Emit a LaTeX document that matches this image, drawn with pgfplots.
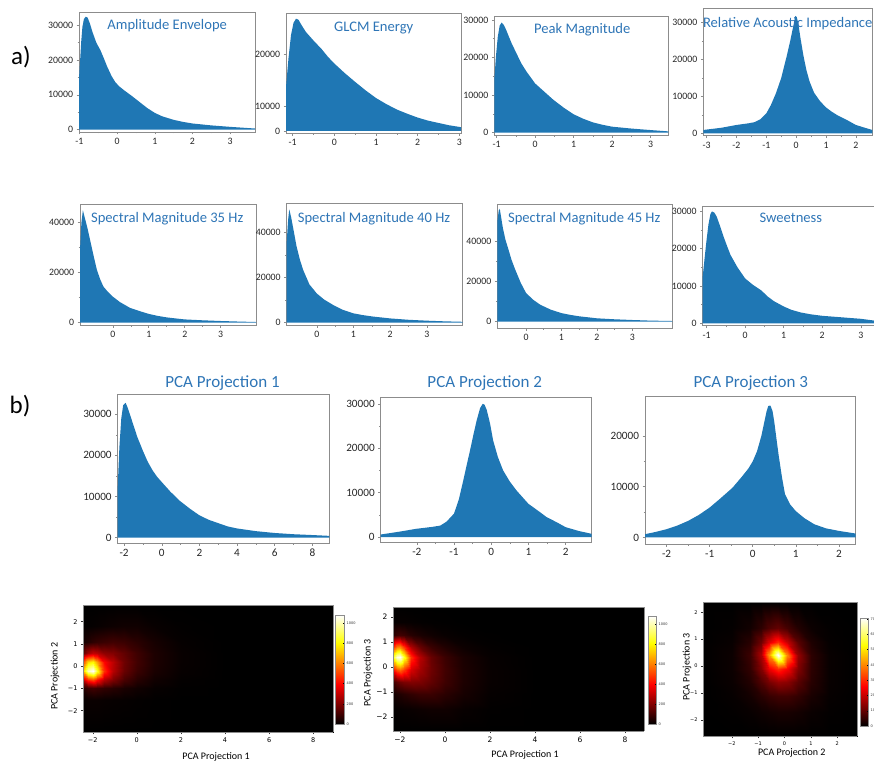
\documentclass[border=0pt]{standalone}
\usepackage{pgfplots}
\pgfplotsset{compat=1.18}
\usepackage{fontspec}
\setmainfont{Carlito}
\newfontfamily\dejavu{DejaVu Sans}
\definecolor{c0}{RGB}{31,119,180}
\definecolor{tblue}{RGB}{46,117,182}
\definecolor{fr}{RGB}{140,140,140}
\pgfplotsset{
  colormap={mhot}{rgb(0cm)=(0,0,0) rgb(3.65cm)=(1,0,0) rgb(7.46cm)=(1,1,0) rgb(10cm)=(1,1,1)},
  hist/.style={scale only axis, anchor=south west,
    axis line style={fr, line width=0.6pt},
    tick style={fr, line width=0.5pt}, tick align=outside, tick pos=left,
    major tick length=2.5pt, minor tick length=1.5pt, minor tick num=1,
    /pgf/number format/assume math mode=true, /pgf/number format/1000 sep={},
    scaled ticks=false,
    ticklabel style={font=\fontsize{9.8}{9.8}\selectfont, text=black!85}},
  histb/.style={hist, ticklabel style={font=\fontsize{11.2}{11.2}\selectfont}},
  hm/.style={scale only axis, anchor=south west, view={0}{90},
    colormap name=mhot, point meta min=0, axis on top,
    tick align=outside, major tick length=2pt,
    tick style={black!80, line width=0.4pt},
    axis line style={fr, line width=0.5pt},
    ztick=\empty, xtick pos=left, ytick pos=left,
    /pgf/number format/assume math mode=true,
    label style={text=black!85}},
  cbar/.style={colorbar style={at={(parent axis.north east)}, anchor=north west,
    scale only axis, tick style={black, line width=0.3pt}, major tick length=1.2pt,
    axis line style={fr, line width=0.4pt},
    /pgf/number format/assume math mode=true, /pgf/number format/1000 sep={},
    yticklabel style={font=\dejavu\fontsize{3.5}{3.5}\selectfont, text=black!80, xshift=-1pt}}}
}
\begin{document}
\begin{tikzpicture}
\useasboundingbox (0,0) rectangle (874pt,765pt);
\clip (0,0) rectangle (874pt,765pt);

% ---------- row a1 ----------
\begin{axis}[hist, at={(79pt,633pt)}, width=176pt, height=120pt,
  xmin=-1.01, xmax=3.66, ymin=-700, ymax=33840,
  xtick={-1,0,1,2,3}, ytick={0,10000,20000,30000}]
\addplot[fill=c0, draw=none] coordinates {(-1.01,14800) (-0.98,20000) (-0.95,25500) (-0.92,29500) (-0.88,31800) (-0.83,32500) (-0.78,32200) (-0.72,30500) (-0.65,28000) (-0.55,25000) (-0.44,22800) (-0.35,20500) (-0.27,18300) (-0.15,15500) (-0.05,13700) (0.05,12500) (0.2,11200) (0.4,9600) (0.6,7900) (0.8,6200) (1,4800) (1.2,3800) (1.5,2800) (1.75,2200) (2,1750) (2.5,1200) (3,780) (3.66,300)} \closedcycle;
\end{axis}

\begin{axis}[hist, at={(286pt,631.5pt)}, width=175pt, height=120.2pt,
  xmin=-1.16, xmax=3.04, ymin=-650, ymax=30700,
  xtick={-1,0,1,2,3}, ytick={0,6500,20000}, yticklabels={0,10000,20000}, minor ytick={}]
\addplot[fill=c0, draw=none] coordinates {(-1.16,11500) (-1.10,19000) (-1.04,25000) (-0.98,28200) (-0.92,29300) (-0.86,29000) (-0.78,27500) (-0.68,25800) (-0.5,23600) (-0.3,21300) (-0.15,19300) (0,17600) (0.25,15100) (0.5,12800) (0.75,10600) (1,8600) (1.25,7000) (1.5,5600) (1.75,4500) (2,3500) (2.25,2700) (2.5,2100) (2.75,1500) (3.04,1000)} \closedcycle;
\end{axis}

\begin{axis}[hist, at={(494.3pt,629.8pt)}, width=174pt, height=119.2pt,
  xmin=-1.06, xmax=3.46, ymin=-665, ymax=31040,
  xtick={-1,0,1,2,3}, ytick={0,10000,20000,30000}]
\addplot[fill=c0, draw=none] coordinates {(-1.06,14000) (-1.02,20000) (-0.97,25500) (-0.92,28500) (-0.87,29300) (-0.81,28600) (-0.75,27300) (-0.62,24000) (-0.48,21000) (-0.35,18300) (-0.22,16200) (0,13100) (0.25,10800) (0.48,8700) (0.75,6600) (1,4900) (1.25,3700) (1.5,2750) (1.75,2100) (2,1600) (2.5,1100) (3,700) (3.46,350)} \closedcycle;
\end{axis}

\begin{axis}[hist, at={(703.3pt,629.2pt)}, width=169pt, height=127.5pt,
  xmin=-3.11, xmax=2.55, ymin=-680, ymax=33875,
  xtick={-3,-2,-1,0,1,2}, ytick={0,10000,20000,30000}]
\addplot[fill=c0, draw=none] coordinates {(-3.11,900) (-2.5,1500) (-2,2250) (-1.6,2700) (-1.4,3000) (-1.2,3800) (-1,5400) (-0.85,7600) (-0.68,10800) (-0.5,15000) (-0.32,20800) (-0.2,25000) (-0.1,28900) (-0.03,31800) (0.02,31500) (0.07,29800) (0.15,25500) (0.24,21200) (0.34,17200) (0.45,14000) (0.6,11000) (0.8,8700) (1,7000) (1.2,5800) (1.4,4800) (1.7,3600) (2,2250) (2.3,1500) (2.55,900)} \closedcycle;
\end{axis}

% ---------- row a2 ----------
\begin{axis}[hist, at={(80pt,439.8pt)}, width=176pt, height=121.2pt,
  xmin=-0.91, xmax=3.98, ymin=-1000, ymax=47290,
  xtick={0,1,2,3}, ytick={0,20000,40000}]
\addplot[fill=c0, draw=none] coordinates {(-0.91,29000) (-0.87,40000) (-0.83,44800) (-0.78,42000) (-0.7,37500) (-0.63,33000) (-0.53,26500) (-0.44,21000) (-0.35,17300) (-0.26,14400) (-0.13,12200) (0,10400) (0.2,8200) (0.48,5900) (0.75,4600) (1,3500) (1.25,2700) (1.5,2100) (2,1300) (2.5,950) (3,670) (3.5,450) (3.98,270)} \closedcycle;
\end{axis}

\begin{axis}[hist, at={(286.7pt,439.8pt)}, width=176pt, height=121.9pt,
  xmin=-0.82, xmax=3.98, ymin=-1110, ymax=53070,
  xtick={0,1,2,3}, ytick={0,20000,40000}]
\addplot[fill=c0, draw=none] coordinates {(-0.82,36000) (-0.78,46000) (-0.75,50300) (-0.7,47000) (-0.62,40000) (-0.55,33800) (-0.46,28000) (-0.37,23400) (-0.2,17000) (0,13000) (0.2,10300) (0.45,7850) (0.7,5800) (1,4150) (1.25,3400) (1.5,2800) (2,1900) (2.5,1300) (3,900) (3.5,600) (3.98,400)} \closedcycle;
\end{axis}

\begin{axis}[hist, at={(497.3pt,436.7pt)}, width=175pt, height=124.3pt,
  xmin=-0.81, xmax=4.13, ymin=-3300, ymax=58850,
  xtick={0,1,2,3}, ytick={0,20000,40000}]
\addplot[fill=c0, draw=none] coordinates {(-0.81,50000) (-0.77,55500) (-0.74,56400) (-0.7,52000) (-0.65,46600) (-0.58,41000) (-0.5,36400) (-0.41,31000) (-0.31,26300) (-0.15,19500) (0,14400) (0.2,11000) (0.4,8500) (0.7,6000) (1,4300) (1.25,3400) (1.5,2700) (2,1700) (2.5,1200) (3,850) (3.5,550) (4.13,340)} \closedcycle;
\end{axis}

\begin{axis}[hist, at={(702.7pt,439.2pt)}, width=172.3pt, height=119.8pt,
  xmin=-1.1, xmax=3.37, ymin=-670, ymax=31360,
  xtick={-1,0,1,2,3}, ytick={0,10000,20000,30000}]
\addplot[fill=c0, draw=none] coordinates {(-1.1,12500) (-1.05,17500) (-1,22300) (-0.95,26500) (-0.9,29200) (-0.86,29900) (-0.8,29600) (-0.74,28600) (-0.65,26000) (-0.56,23200) (-0.47,20700) (-0.38,18300) (-0.2,15000) (0,12000) (0.2,10300) (0.42,8800) (0.5,8000) (0.58,7200) (0.75,5900) (1,4500) (1.2,3600) (1.44,2900) (1.7,2400) (2,2000) (2.5,1600) (3,1200) (3.37,700)} \closedcycle;
\end{axis}

% ---------- row b histograms ----------
\begin{axis}[histb, at={(117.7pt,221.7pt)}, width=211.6pt, height=149pt,
  xmin=-2.34, xmax=8.9, ymin=-1410, ymax=34870,
  xtick={-2,0,2,4,6,8}, ytick={0,10000,20000,30000}]
\addplot[fill=c0, draw=none] coordinates {(-2.34,12300) (-2.25,22000) (-2.15,29000) (-2.05,32200) (-1.92,32800) (-1.8,31500) (-1.55,28000) (-1.3,24500) (-1.0,21100) (-0.75,18500) (-0.48,16300) (-0.25,14800) (0,13500) (0.45,11200) (0.94,9000) (1.5,7000) (2,5400) (2.5,4300) (3.06,3400) (3.5,2700) (4,2200) (5,1550) (6,1100) (7,800) (8,600) (8.9,400)} \closedcycle;
\end{axis}

\begin{axis}[histb, at={(380.7pt,222.3pt)}, width=211pt, height=145pt,
  xmin=-2.97, xmax=2.7, ymin=-1240, ymax=31370,
  xtick={-2,-1,0,1,2}, ytick={0,10000,20000,30000}]
\addplot[fill=c0, draw=none] coordinates {(-2.97,600) (-2.5,1200) (-2,1900) (-1.6,2300) (-1.37,2600) (-1.2,3500) (-1,5300) (-0.87,8500) (-0.75,12800) (-0.66,16200) (-0.57,19500) (-0.48,23000) (-0.39,26300) (-0.3,29000) (-0.23,30000) (-0.18,29800) (-0.12,28600) (-0.03,25500) (0.05,21800) (0.18,18000) (0.32,15000) (0.5,12500) (0.68,10500) (1,7500) (1.25,6000) (1.49,4500) (1.75,3400) (2,2250) (2.35,1400) (2.7,750)} \closedcycle;
\end{axis}

\begin{axis}[histb, at={(645pt,220.7pt)}, width=210.7pt, height=147.6pt,
  xmin=-2.5, xmax=2.39, ymin=-1340, ymax=27740,
  xtick={-2,-1,0,1,2}, ytick={0,10000,20000}]
\addplot[fill=c0, draw=none] coordinates {(-2.5,650) (-2.25,1100) (-2,1630) (-1.75,2350) (-1.5,3270) (-1.25,4450) (-1,5900) (-0.75,7700) (-0.47,9800) (-0.25,12000) (-0.1,13600) (0,15000) (0.1,17000) (0.2,20000) (0.27,22800) (0.32,24800) (0.36,25900) (0.41,26000) (0.46,24900) (0.5,22800) (0.55,19500) (0.6,16300) (0.68,11800) (0.75,8500) (0.87,6500) (1,5200) (1.2,3800) (1.43,2600) (1.7,1800) (2,1300) (2.39,780)} \closedcycle;
\end{axis}

% ---------- heatmaps ----------
\begin{axis}[hm, at={(83pt,33pt)}, width=250pt, height=127pt,
  xmin=-2.44, xmax=8.9, ymin=-2.96, ymax=2.75, point meta max=1080,
  xtick={-2,0,2,4,6,8}, xticklabels={−2,0,2,4,6,8},
  ytick={-2,-1,0,1,2}, yticklabels={−2,−1,0,1,2},
  ticklabel style={font=\dejavu\fontsize{6.5}{6.5}\selectfont},
  xlabel={PCA Projection 1}, ylabel={PCA Projection 2},
  label style={font=\fontsize{11}{11}\selectfont},
  every axis x label/.style={at={(axis description cs:0.532,-0.197)}, anchor=center},
  every axis y label/.style={at={(axis description cs:-0.112,0.44)}, rotate=90, anchor=center},
  colorbar, cbar, colorbar style={xshift=-6.5pt, yshift=-10pt, width=9pt, height=109pt, ytick={0,200,...,1000}}]
\addplot3[surf, shader=interp, mesh/cols=12] table[row sep=\\] {
x y z\\
-2.44 -2.96 0\\ -2.2 -2.96 0\\ -2.0 -2.96 0\\ -1.8 -2.96 0\\ -1.5 -2.96 0\\ -1.1 -2.96 0\\ -0.6 -2.96 0\\ 0 -2.96 0\\ 0.8 -2.96 0\\ 2 -2.96 0\\ 4 -2.96 0\\ 8.9 -2.96 0\\
-2.44 -1.5 10\\ -2.2 -1.5 15\\ -2.0 -1.5 15\\ -1.8 -1.5 15\\ -1.5 -1.5 12\\ -1.1 -1.5 10\\ -0.6 -1.5 8\\ 0 -1.5 5\\ 0.8 -1.5 2\\ 2 -1.5 0\\ 4 -1.5 0\\ 8.9 -1.5 0\\
-2.44 -1.0 60\\ -2.2 -1.0 90\\ -2.0 -1.0 100\\ -1.8 -1.0 90\\ -1.5 -1.0 75\\ -1.1 -1.0 60\\ -0.6 -1.0 40\\ 0 -1.0 25\\ 0.8 -1.0 10\\ 2 -1.0 2\\ 4 -1.0 0\\ 8.9 -1.0 0\\
-2.44 -0.6 300\\ -2.2 -0.6 450\\ -2.0 -0.6 500\\ -1.8 -0.6 400\\ -1.5 -0.6 270\\ -1.1 -0.6 190\\ -0.6 -0.6 110\\ 0 -0.6 60\\ 0.8 -0.6 25\\ 2 -0.6 5\\ 4 -0.6 0\\ 8.9 -0.6 0\\
-2.44 -0.2 700\\ -2.2 -0.2 1000\\ -2.0 -0.2 1080\\ -1.8 -0.2 850\\ -1.5 -0.2 470\\ -1.1 -0.2 280\\ -0.6 -0.2 160\\ 0 -0.2 90\\ 0.8 -0.2 40\\ 2 -0.2 10\\ 4 -0.2 0\\ 8.9 -0.2 0\\
-2.44 0.2 500\\ -2.2 0.2 750\\ -2.0 0.2 800\\ -1.8 0.2 650\\ -1.5 0.2 400\\ -1.1 0.2 290\\ -0.6 0.2 170\\ 0 0.2 100\\ 0.8 0.2 45\\ 2 0.2 12\\ 4 0.2 0\\ 8.9 0.2 0\\
-2.44 0.6 150\\ -2.2 0.6 250\\ -2.0 0.6 300\\ -1.8 0.6 280\\ -1.5 0.6 220\\ -1.1 0.6 200\\ -0.6 0.6 150\\ 0 0.6 95\\ 0.8 0.6 45\\ 2 0.6 12\\ 4 0.6 0\\ 8.9 0.6 0\\
-2.44 1.1 30\\ -2.2 1.1 50\\ -2.0 1.1 70\\ -1.8 1.1 80\\ -1.5 1.1 90\\ -1.1 1.1 100\\ -0.6 1.1 90\\ 0 1.1 65\\ 0.8 1.1 35\\ 2 1.1 8\\ 4 1.1 0\\ 8.9 1.1 0\\
-2.44 1.8 3\\ -2.2 1.8 5\\ -2.0 1.8 8\\ -1.8 1.8 10\\ -1.5 1.8 15\\ -1.1 1.8 20\\ -0.6 1.8 25\\ 0 1.8 25\\ 0.8 1.8 12\\ 2 1.8 3\\ 4 1.8 0\\ 8.9 1.8 0\\
-2.44 2.75 0\\ -2.2 2.75 0\\ -2.0 2.75 0\\ -1.8 2.75 0\\ -1.5 2.75 0\\ -1.1 2.75 0\\ -0.6 2.75 0\\ 0 2.75 0\\ 0.8 2.75 0\\ 2 2.75 0\\ 4 2.75 0\\ 8.9 2.75 0\\
};
\end{axis}

\begin{axis}[hm, at={(393pt,34pt)}, width=251pt, height=124pt,
  xmin=-2.31, xmax=8.84, ymin=-2.57, ymax=2.41, point meta max=1080,
  xtick={-2,0,2,4,6,8}, xticklabels={−2,0,2,4,6,8},
  ytick={-2,-1,0,1,2}, yticklabels={−2,−1,0,1,2},
  ticklabel style={font=\dejavu\fontsize{7.5}{7.5}\selectfont},
  xlabel={PCA Projection 1}, ylabel={PCA Projection 3},
  label style={font=\fontsize{11}{11}\selectfont},
  every axis x label/.style={at={(axis description cs:0.526,-0.19)}, anchor=center},
  every axis y label/.style={at={(axis description cs:-0.1,0.47)}, rotate=90, anchor=center},
  colorbar, cbar, colorbar style={xshift=-4.5pt, yshift=-9pt, width=8pt, height=108pt, ytick={0,200,...,1000}}]
\addplot3[surf, shader=interp, mesh/cols=12] table[row sep=\\] {
x y z\\
-2.31 -2.57 0\\ -2.15 -2.57 0\\ -2.0 -2.57 0\\ -1.8 -2.57 0\\ -1.5 -2.57 0\\ -1.1 -2.57 0\\ -0.6 -2.57 0\\ 0 -2.57 0\\ 0.8 -2.57 0\\ 2 -2.57 0\\ 4 -2.57 0\\ 8.84 -2.57 0\\
-2.31 -1.7 5\\ -2.15 -1.7 8\\ -2.0 -1.7 10\\ -1.8 -1.7 12\\ -1.5 -1.7 15\\ -1.1 -1.7 20\\ -0.6 -1.7 25\\ 0 -1.7 25\\ 0.8 -1.7 12\\ 2 -1.7 3\\ 4 -1.7 0\\ 8.84 -1.7 0\\
-2.31 -1.1 30\\ -2.15 -1.1 40\\ -2.0 -1.1 50\\ -1.8 -1.1 60\\ -1.5 -1.1 75\\ -1.1 -1.1 90\\ -0.6 -1.1 90\\ 0 -1.1 65\\ 0.8 -1.1 35\\ 2 -1.1 8\\ 4 -1.1 0\\ 8.84 -1.1 0\\
-2.31 -0.6 100\\ -2.15 -0.6 140\\ -2.0 -0.6 170\\ -1.8 -0.6 190\\ -1.5 -0.6 200\\ -1.1 -0.6 190\\ -0.6 -0.6 150\\ 0 -0.6 95\\ 0.8 -0.6 45\\ 2 -0.6 12\\ 4 -0.6 0\\ 8.84 -0.6 0\\
-2.31 -0.1 400\\ -2.15 -0.1 520\\ -2.0 -0.1 560\\ -1.8 -0.1 480\\ -1.5 -0.1 330\\ -1.1 -0.1 250\\ -0.6 -0.1 170\\ 0 -0.1 100\\ 0.8 -0.1 45\\ 2 -0.1 12\\ 4 -0.1 0\\ 8.84 -0.1 0\\
-2.31 0.4 850\\ -2.15 0.4 1040\\ -2.0 0.4 1080\\ -1.8 0.4 850\\ -1.5 0.4 470\\ -1.1 0.4 280\\ -0.6 0.4 160\\ 0 0.4 90\\ 0.8 0.4 40\\ 2 0.4 10\\ 4 0.4 0\\ 8.84 0.4 0\\
-2.31 0.8 450\\ -2.15 0.8 600\\ -2.0 0.8 620\\ -1.8 0.8 480\\ -1.5 0.8 270\\ -1.1 0.8 160\\ -0.6 0.8 90\\ 0 0.8 50\\ 0.8 0.8 20\\ 2 0.8 5\\ 4 0.8 0\\ 8.84 0.8 0\\
-2.31 1.3 60\\ -2.15 1.3 90\\ -2.0 1.3 100\\ -1.8 1.3 90\\ -1.5 1.3 60\\ -1.1 1.3 40\\ -0.6 1.3 25\\ 0 1.3 12\\ 0.8 1.3 5\\ 2 1.3 1\\ 4 1.3 0\\ 8.84 1.3 0\\
-2.31 1.8 5\\ -2.15 1.8 8\\ -2.0 1.8 10\\ -1.8 1.8 10\\ -1.5 1.8 8\\ -1.1 1.8 5\\ -0.6 1.8 3\\ 0 1.8 2\\ 0.8 1.8 0\\ 2 1.8 0\\ 4 1.8 0\\ 8.84 1.8 0\\
-2.31 2.41 0\\ -2.15 2.41 0\\ -2.0 2.41 0\\ -1.8 2.41 0\\ -1.5 2.41 0\\ -1.1 2.41 0\\ -0.6 2.41 0\\ 0 2.41 0\\ 0.8 2.41 0\\ 2 2.41 0\\ 4 2.41 0\\ 8.84 2.41 0\\
};
\end{axis}

\begin{axis}[hm, at={(703pt,29pt)}, width=154pt, height=134pt,
  xmin=-3.09, xmax=2.75, ymin=-2.6, ymax=2.38, point meta max=705,
  xtick={-2,-1,0,1,2}, xticklabels={−2,−1,0,1,2},
  ytick={-2,-1,0,1,2}, yticklabels={−2,−1,0,1,2},
  ticklabel style={font=\dejavu\fontsize{5}{5}\selectfont},
  xlabel={PCA Projection 2}, ylabel={PCA Projection 3},
  label style={font=\fontsize{12}{12}\selectfont},
  every axis x label/.style={at={(axis description cs:0.576,-0.127)}, anchor=center},
  every axis y label/.style={at={(axis description cs:-0.104,0.515)}, rotate=90, anchor=center},
  colorbar, cbar, colorbar style={xshift=-5.5pt, yshift=-16pt, width=8pt, height=108pt, ytick={0,100,...,700}}]
\addplot3[surf, shader=interp, mesh/cols=11] table[row sep=\\] {
x y z\\
-3.09 -2.6 0\\ -2 -2.6 0\\ -1.3 -2.6 0\\ -0.9 -2.6 0\\ -0.6 -2.6 0\\ -0.25 -2.6 0\\ 0.1 -2.6 0\\ 0.5 -2.6 0\\ 1.0 -2.6 0\\ 1.7 -2.6 0\\ 2.75 -2.6 0\\
-3.09 -1.7 0\\ -2 -1.7 3\\ -1.3 -1.7 8\\ -0.9 -1.7 15\\ -0.6 -1.7 20\\ -0.25 -1.7 25\\ 0.1 -1.7 25\\ 0.5 -1.7 20\\ 1.0 -1.7 10\\ 1.7 -1.7 3\\ 2.75 -1.7 0\\
-3.09 -1.1 0\\ -2 -1.1 6\\ -1.3 -1.1 20\\ -0.9 -1.1 40\\ -0.6 -1.1 55\\ -0.25 -1.1 65\\ 0.1 -1.1 65\\ 0.5 -1.1 50\\ 1.0 -1.1 25\\ 1.7 -1.1 6\\ 2.75 -1.1 0\\
-3.09 -0.6 0\\ -2 -0.6 10\\ -1.3 -0.6 35\\ -0.9 -0.6 80\\ -0.6 -0.6 120\\ -0.25 -0.6 150\\ 0.1 -0.6 140\\ 0.5 -0.6 90\\ 1.0 -0.6 40\\ 1.7 -0.6 8\\ 2.75 -0.6 0\\
-3.09 -0.1 0\\ -2 -0.1 12\\ -1.3 -0.1 50\\ -0.9 -0.1 130\\ -0.6 -0.1 240\\ -0.25 -0.1 300\\ 0.1 -0.1 250\\ 0.5 -0.1 130\\ 1.0 -0.1 45\\ 1.7 -0.1 8\\ 2.75 -0.1 0\\
-3.09 0.4 0\\ -2 0.4 12\\ -1.3 0.4 60\\ -0.9 0.4 170\\ -0.6 0.4 420\\ -0.25 0.4 705\\ 0.1 0.4 400\\ 0.5 0.4 150\\ 1.0 0.4 45\\ 1.7 0.4 8\\ 2.75 0.4 0\\
-3.09 0.9 0\\ -2 0.9 8\\ -1.3 0.9 40\\ -0.9 0.9 110\\ -0.6 0.9 220\\ -0.25 0.9 300\\ 0.1 0.9 200\\ 0.5 0.9 90\\ 1.0 0.9 30\\ 1.7 0.9 5\\ 2.75 0.9 0\\
-3.09 1.4 0\\ -2 1.4 4\\ -1.3 1.4 18\\ -0.9 1.4 45\\ -0.6 1.4 80\\ -0.25 1.4 100\\ 0.1 1.4 70\\ 0.5 1.4 35\\ 1.0 1.4 12\\ 1.7 1.4 3\\ 2.75 1.4 0\\
-3.09 2.38 0\\ -2 2.38 0\\ -1.3 2.38 0\\ -0.9 2.38 0\\ -0.6 2.38 0\\ -0.25 2.38 0\\ 0.1 2.38 0\\ 0.5 2.38 0\\ 1.0 2.38 0\\ 1.7 2.38 0\\ 2.75 2.38 0\\
};
\end{axis}

% ---------- titles and panel letters ----------
\begin{scope}[every node/.style={text=tblue, font=\fontsize{14.6}{14.6}\selectfont, inner sep=0pt}]
\node at (167.2pt,739pt) {Amplitude Envelope};
\node at (373.7pt,736.7pt) {GLCM Energy};
\node at (582.2pt,735.7pt) {Peak Magnitude};
\node at (787.7pt,741pt) {Relative Acoustic Impedance};
\node at (167.2pt,546.7pt) {Spectral Magnitude 35 Hz};
\node at (374pt,546.7pt) {Spectral Magnitude 40 Hz};
\node at (584.2pt,546.7pt) {Spectral Magnitude 45 Hz};
\node at (790.8pt,546.7pt) {Sweetness};
\end{scope}
\begin{scope}[every node/.style={text=tblue, font=\fontsize{17}{17}\selectfont, inner sep=0pt}]
\node at (222.5pt,381.7pt) {PCA Projection 1};
\node at (484.7pt,381.7pt) {PCA Projection 2};
\node at (750.8pt,381.7pt) {PCA Projection 3};
\end{scope}
\node[font=\fontsize{25}{25}\selectfont, inner sep=0pt] at (21pt,708pt) {a)};
\node[font=\fontsize{25}{25}\selectfont, inner sep=0pt] at (20pt,359pt) {b)};
\end{tikzpicture}
\end{document}
